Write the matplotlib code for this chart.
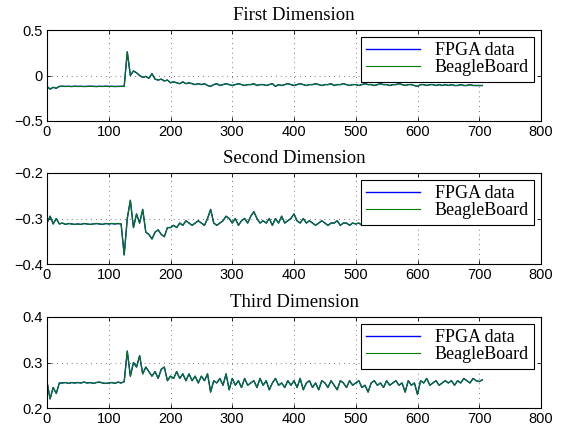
import matplotlib.pyplot as plt
import numpy as np

# sample index (every 5th sample)
samples = np.arange(0, 706, 5)

first_dim = [
    -0.12, -0.15, -0.13, -0.14, -0.12, -0.118, -0.12, -0.119, -0.121, -0.118,
    -0.12, -0.119, -0.121, -0.12, -0.118, -0.12, -0.121, -0.119, -0.12, -0.118,
    -0.12, -0.119, -0.121, -0.12, -0.119, -0.12, 0.26, 0.0, 0.05, 0.03,
    0.0, -0.02, -0.01, -0.03, 0.02, -0.04, -0.05, -0.04, -0.06, -0.05,
    -0.08, -0.07, -0.08, -0.09, -0.07, -0.09, -0.08, -0.09, -0.1, -0.09,
    -0.1, -0.09, -0.11, -0.12, -0.1, -0.09, -0.11, -0.1, -0.09, -0.1,
    -0.11, -0.1, -0.09, -0.1, -0.11, -0.1, -0.1, -0.09, -0.11, -0.1,
    -0.1, -0.11, -0.1, -0.09, -0.12, -0.1, -0.11, -0.1, -0.09, -0.1,
    -0.11, -0.1, -0.09, -0.1, -0.11, -0.1, -0.1, -0.09, -0.1, -0.11,
    -0.1, -0.1, -0.09, -0.11, -0.1, -0.1, -0.09, -0.1, -0.11, -0.1,
    -0.1, -0.11, -0.1, -0.09, -0.1, -0.1, -0.11, -0.1, -0.09, -0.1,
    -0.1, -0.11, -0.1, -0.1, -0.09, -0.1, -0.11, -0.1, -0.1, -0.11,
    -0.12, -0.1, -0.1, -0.11, -0.1, -0.1, -0.11, -0.1, -0.11, -0.1,
    -0.11, -0.1, -0.11, -0.11, -0.1, -0.11, -0.11, -0.1, -0.11, -0.11,
    -0.11, -0.11,
]

second_dim = [
    -0.31, -0.295, -0.312, -0.30, -0.312, -0.31, -0.313, -0.311, -0.312, -0.313,
    -0.312, -0.313, -0.311, -0.312, -0.313, -0.312, -0.311, -0.312, -0.313, -0.311,
    -0.312, -0.311, -0.312, -0.311, -0.312, -0.38, -0.30, -0.26, -0.32, -0.29,
    -0.31, -0.28, -0.33, -0.335, -0.345, -0.33, -0.325, -0.335, -0.34, -0.32,
    -0.32, -0.315, -0.32, -0.31, -0.315, -0.305, -0.31, -0.315, -0.31, -0.305,
    -0.31, -0.315, -0.30, -0.28, -0.31, -0.315, -0.31, -0.305, -0.295, -0.30,
    -0.31, -0.30, -0.315, -0.305, -0.30, -0.31, -0.295, -0.285, -0.30, -0.31,
    -0.305, -0.31, -0.30, -0.315, -0.30, -0.31, -0.295, -0.31, -0.305, -0.30,
    -0.29, -0.305, -0.31, -0.30, -0.31, -0.305, -0.31, -0.315, -0.31, -0.305,
    -0.31, -0.315, -0.31, -0.31, -0.305, -0.315, -0.31, -0.31, -0.315, -0.31,
    -0.312, -0.31, -0.315, -0.31, -0.312, -0.308, -0.315, -0.31, -0.312, -0.31,
    -0.31, -0.315, -0.312, -0.308, -0.31, -0.315, -0.31, -0.312, -0.31, -0.315,
    -0.31, -0.312, -0.308, -0.315, -0.31, -0.312, -0.31, -0.315, -0.31, -0.312,
    -0.31, -0.312, -0.315, -0.31, -0.312, -0.31, -0.315, -0.312, -0.31, -0.313,
    -0.312, -0.313,
]

third_dim = [
    0.258, 0.22, 0.245, 0.232, 0.255, 0.255, 0.256, 0.254, 0.256, 0.255,
    0.256, 0.255, 0.257, 0.255, 0.256, 0.254, 0.256, 0.257, 0.255, 0.254,
    0.255, 0.256, 0.254, 0.257, 0.255, 0.258, 0.325, 0.27, 0.30, 0.29,
    0.315, 0.275, 0.29, 0.28, 0.27, 0.28, 0.265, 0.285, 0.29, 0.26,
    0.27, 0.265, 0.28, 0.265, 0.275, 0.26, 0.275, 0.26, 0.27, 0.255,
    0.27, 0.26, 0.275, 0.235, 0.26, 0.255, 0.265, 0.25, 0.275, 0.24,
    0.265, 0.25, 0.26, 0.245, 0.265, 0.25, 0.255, 0.26, 0.245, 0.265,
    0.25, 0.26, 0.24, 0.255, 0.265, 0.25, 0.255, 0.245, 0.26, 0.25,
    0.26, 0.245, 0.265, 0.24, 0.255, 0.26, 0.245, 0.255, 0.24, 0.26,
    0.255, 0.245, 0.26, 0.25, 0.24, 0.26, 0.255, 0.245, 0.26, 0.25,
    0.255, 0.26, 0.245, 0.25, 0.235, 0.255, 0.26, 0.25, 0.255, 0.245,
    0.26, 0.25, 0.255, 0.26, 0.25, 0.255, 0.235, 0.26, 0.25, 0.255,
    0.23, 0.26, 0.255, 0.265, 0.25, 0.255, 0.26, 0.25, 0.255, 0.26,
    0.255, 0.26, 0.25, 0.26, 0.255, 0.265, 0.26, 0.255, 0.265, 0.26,
    0.258, 0.262,
]

titles = ["First Dimension", "Second Dimension", "Third Dimension"]
ylims = [(-0.5, 0.5), (-0.4, -0.2), (0.2, 0.4)]
yticks = [[-0.5, 0, 0.5], [-0.4, -0.3, -0.2], [0.2, 0.3, 0.4]]
ytick_labels = [["\u22120.5", "0", "0.5"], ["\u22120.4", "\u22120.3", "\u22120.2"], ["0.2", "0.3", "0.4"]]
xticks = [0, 100, 200, 300, 400, 500, 600, 700, 800]
series_names = ["FPGA data", "BeagleBoard"]

plt.rcParams["font.family"] = "Liberation Sans"

fig = plt.figure(figsize=(5.72, 4.32), dpi=100)
left, width, height = 47 / 572, 494 / 572, 91 / 432
tops = [30, 173, 317]

for top, data, title, ylim, yt, ytl in zip(tops, [first_dim, second_dim, third_dim],
                                           titles, ylims, yticks, ytick_labels):
    ax = fig.add_axes([left, 1 - (top + 91) / 432, width, height])
    ax.plot(samples, data, color=(0, 0, 1), lw=1.0, label=series_names[0])
    ax.plot(samples, data, color=(0, 0.5, 0), lw=0.8, label=series_names[1])
    ax.set_xlim(0, 800)
    ax.set_ylim(*ylim)
    ax.set_xticks(xticks)
    ax.set_yticks(yt)
    ax.set_yticklabels(ytl)
    ax.tick_params(direction="in", top=True, right=True, length=3, width=0.6,
                   labelsize=10.5, pad=3)
    ax.grid(True, color="black", linestyle=(0, (1, 6)), linewidth=0.5)
    for s in ax.spines.values():
        s.set_linewidth(0.8)
    ax.set_title(title, family="Liberation Serif", fontsize=13.5, pad=7)
    leg = ax.legend(loc="upper right", prop={"family": "Liberation Serif", "size": 13},
                    fancybox=False, edgecolor="black", framealpha=1,
                    handlelength=3.0, borderpad=0.3, labelspacing=0.0,
                    borderaxespad=0.38, handletextpad=0.8)
    leg.get_frame().set_linewidth(0.8)

fig.savefig("out.png", dpi=100)
